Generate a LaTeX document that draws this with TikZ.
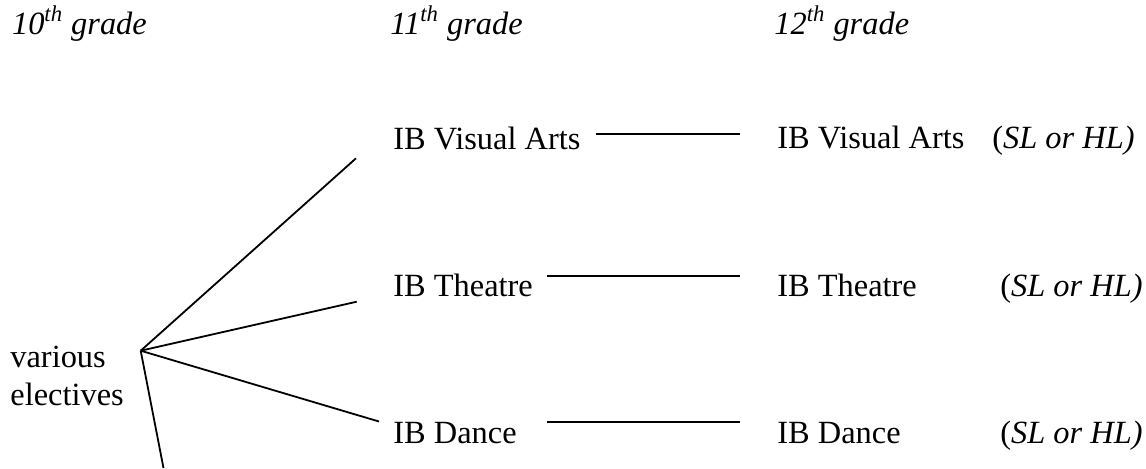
\documentclass[tikz,border=0pt]{standalone}
\usepackage{fontspec}
\setmainfont{Liberation Serif}
\begin{document}
\begin{tikzpicture}[x=0.5pt,y=-0.5pt,
  lbl/.style={anchor=base west,inner sep=0pt,font=\fontsize{16.2}{19.4}\selectfont},
  hdr/.style={anchor=base west,inner sep=0pt,font=\fontsize{16.2}{19.4}\selectfont\itshape},
  conn/.style={line width=0.9pt}]
\useasboundingbox (0,0) rectangle (1146,468);
% headers
\node[hdr] (g10) at (11.7,34) {10\textsuperscript{th} grade};
\node[hdr] (g11) at (390,34) {11\textsuperscript{th} grade};
\node[hdr] (g12) at (774,34) {12\textsuperscript{th} grade};
% 11th grade
\node[lbl] (va11) at (393,149) {IB Visual Arts};
\node[lbl] (th11) at (393,296) {IB Theatre};
\node[lbl] (da11) at (393,443) {IB Dance};
% 12th grade
\node[lbl] (va12) at (777,148) {IB Visual Arts};
\node[lbl] (th12) at (777,296) {IB Theatre};
\node[lbl] (da12) at (777,443) {IB Dance};
\node[lbl] (vaL) at (992,148) {(\textit{SL or HL)}};
\node[lbl] (thL) at (1000,296) {(\textit{SL or HL)}};
\node[lbl] (daL) at (1000,443) {(\textit{SL or HL)}};
% 10th grade
\node[lbl] (v1) at (10,367) {various};
\node[lbl] (v2) at (10,405) {electives};
% branch lines
\coordinate (apex) at (140.7,350.7);
\coordinate (eva) at (356,158.3);
\coordinate (eth) at (356.7,301.7);
\coordinate (eda) at (379,421.5);
\coordinate (ebot) at (163.5,468);
\draw[conn] (apex) -- (eva);
\draw[conn] (apex) -- (eth);
\draw[conn] (apex) -- (eda);
\draw[conn] (apex) -- (ebot);
% horizontal connectors
\coordinate (hva1) at (596,134);
\coordinate (hva2) at (740,134);
\coordinate (hth1) at (547,276);
\coordinate (hth2) at (740,276);
\coordinate (hda1) at (547,422);
\coordinate (hda2) at (740,422);
\draw[conn] (hva1) -- (hva2);
\draw[conn] (hth1) -- (hth2);
\draw[conn] (hda1) -- (hda2);
\end{tikzpicture}
\end{document}
